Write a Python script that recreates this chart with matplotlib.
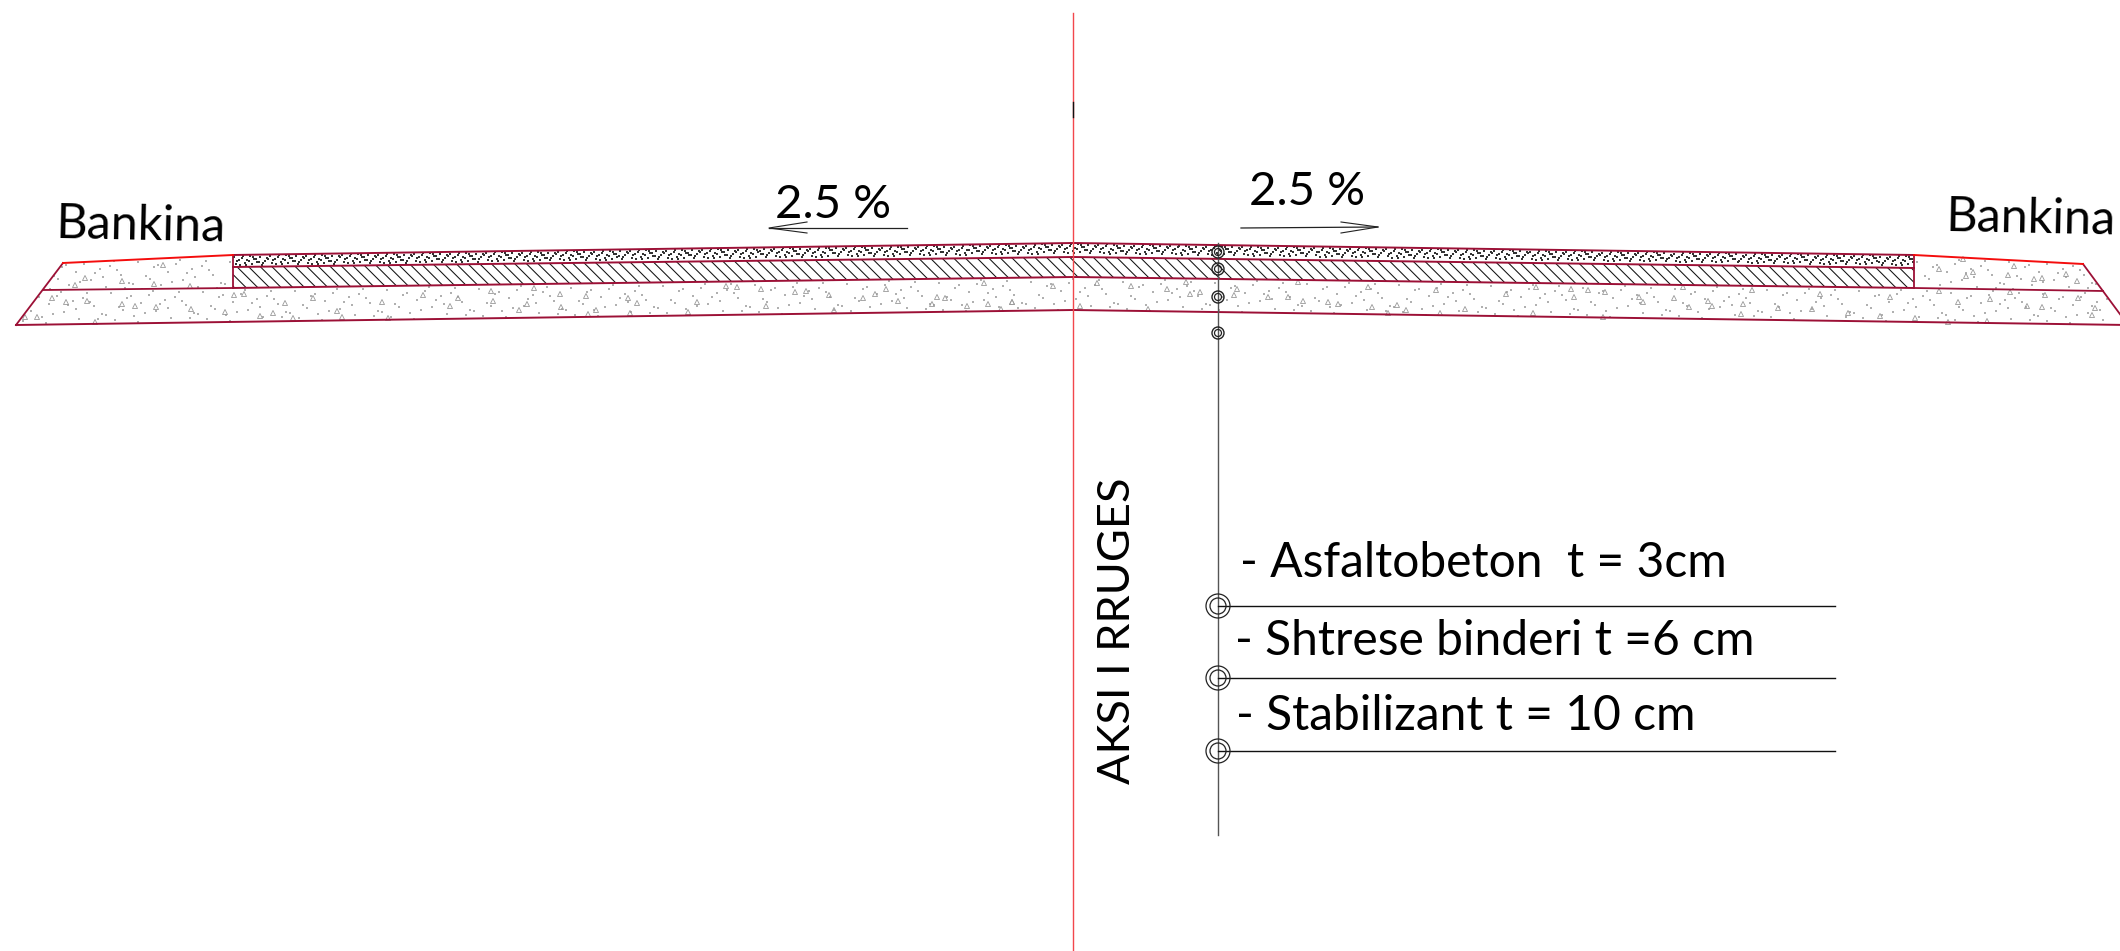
import matplotlib
matplotlib.use("Agg")
import matplotlib.pyplot as plt
from matplotlib.patches import Polygon, Circle
import numpy as np

plt.rcParams["font.family"] = ["Lato", "DejaVu Sans"]

# road section, in picture pixels
road_x = [233, 1073, 1914]
asphalt_top = [255, 243, 255]
asphalt_bottom = [267, 257, 268]
binder_bottom = [288, 277, 288]
base_x = [16, 1073, 2128]
base_bottom = [325, 310, 325]
left_shoulder_x = [43, 63, 233, 233]
left_shoulder_y = [290, 263, 255, 288]
right_shoulder_x = [1914, 1914, 2083, 2103]
right_shoulder_y = [288, 255, 264, 291]

leader_x = 1218
small_rings_y = [252, 269, 297, 333]
big_rings_y = [606, 678, 751]
leader_end_x = 1835
layer_labels = ["- Asfaltobeton  t = 3cm", "- Shtrese binderi t =6 cm", "- Stabilizant t = 10 cm"]
layer_label_x = [1240, 1235, 1236]
layer_label_y = [577, 655, 730]

# aggregate triangles in the base course and shoulders
stone_x = [25, 37, 75, 85, 122, 154, 190, 163, 52, 87, 66, 122, 135, 156, 191, 225, 260, 273, 293, 285, 313, 337,
           342, 388, 234, 244, 382, 95, 423, 458, 450, 491, 493, 534, 527, 519, 560, 586, 561, 596, 588, 628, 637,
           630, 688, 697, 726, 737, 761, 795, 806, 766, 829, 834, 863, 875, 886, 898, 937, 945, 932, 967, 988,
           1012, 1001, 984, 1053, 1012, 1080, 1097, 1131, 1167, 1186, 1190, 1200, 1148, 1237, 1234, 1268, 1288,
           1303, 1328, 1338, 1298, 1368, 1372, 1388, 1397, 1406, 1436, 1440, 1465, 1506, 1536, 1533, 1571, 1588,
           1574, 1605, 1603, 1639, 1643, 1674, 1689, 1708, 1712, 1743, 1752, 1741, 1778, 1683, 1820, 1812, 1848,
           1880, 1890, 1915, 1939, 1958, 1990, 2010, 2027, 2042, 2045, 2078, 2095, 2092, 1948, 1987, 1939, 1963,
           1966, 1973, 2014, 2008, 2034, 2042, 2066, 2077]
stone_y = [317, 317, 285, 278, 281, 284, 286, 265, 298, 301, 302, 304, 306, 307, 309, 312, 316, 313, 318, 303, 298,
           311, 317, 318, 295, 294, 302, 322, 295, 298, 306, 291, 301, 288, 304, 310, 294, 296, 307, 310, 314, 298,
           303, 313, 312, 302, 286, 287, 289, 292, 291, 306, 295, 310, 298, 294, 289, 301, 297, 298, 304, 306, 304,
           302, 309, 283, 286, 302, 306, 283, 286, 289, 282, 294, 292, 309, 289, 295, 297, 297, 301, 302, 304, 282,
           287, 307, 313, 305, 310, 290, 313, 309, 294, 287, 313, 289, 290, 297, 292, 317, 297, 302, 298, 307, 301,
           306, 304, 290, 314, 308, 287, 294, 309, 313, 316, 297, 318, 291, 302, 299, 292, 306, 307, 295, 298, 308,
           315, 322, 321, 269, 259, 276, 272, 266, 275, 279, 278, 274, 281]

# stipple tiles, repeated along the road
fine_tile_dx = [1, 4, 7, 9, 12, 14, 17, 19, 21, 24, 27, 29, 32, 34, 3, 10, 16, 23, 30, 6, 13, 20, 26, 35]
fine_tile_dy = [2, 6, 10, 3, 8, 5, 1, 9, 4, 7, 2, 10, 6, 3, 9, 1, 6, 4, 8, 5, 10, 2, 7, 4]
sand_tile_dx = [3, 11, 19, 26, 33, 41, 48, 57, 63, 71, 78, 86, 7, 23, 37, 52, 67, 82, 15, 45, 74, 30, 60, 90]
sand_tile_dy = [4, 18, 9, 27, 14, 6, 22, 11, 29, 3, 17, 25, 31, 7, 24, 15, 8, 30, 21, 2, 12, 33, 19, 26]

line_red = "#9c1036"
bright_red = "#f40d0d"
axis_red = "#f2474c"


def tile_points(x0, x1, step, tile_dx, tile_dy, ref_x, ref_y):
    xs = []
    ys = []
    for start in np.arange(x0, x1, step):
        for dx, dy in zip(tile_dx, tile_dy):
            xs.append(start + dx)
            ys.append(np.interp(start + dx, ref_x, ref_y) + dy)
    return xs, ys


fig = plt.figure(figsize=(21.2, 9.51), dpi=100)
ax = fig.add_axes([0, 0, 1, 1])
ax.set_xlim(0, 2120)
ax.set_ylim(951, 0)
ax.axis("off")

asphalt = Polygon(list(zip(road_x, asphalt_top)) + list(zip(road_x[::-1], asphalt_bottom[::-1])), fc="white", ec="none")
binder = Polygon(list(zip(road_x, asphalt_bottom)) + list(zip(road_x[::-1], binder_bottom[::-1])), fc="white", ec="none")
base_top_x = [43, 233, 1073, 1914, 2103]
base_top_y = [290, 288, 277, 288, 291]
base = Polygon(list(zip(base_top_x, base_top_y)) + [(2128, 325), (1073, 310), (16, 325)], fc="white", ec="none")
left_sh = Polygon(list(zip(left_shoulder_x, left_shoulder_y)), fc="white", ec="none")
right_sh = Polygon(list(zip(right_shoulder_x, right_shoulder_y)), fc="white", ec="none")
for p in [asphalt, binder, base, left_sh, right_sh]:
    ax.add_patch(p)

# asphalt speckle
xs, ys = tile_points(233, 1914, 36, fine_tile_dx, fine_tile_dy, road_x, asphalt_top)
dots = ax.scatter(xs, ys, s=1.0, marker="s", color="#333333", linewidths=0, zorder=2)
dots.set_clip_path(asphalt)

# binder hatch
for start in np.arange(140, 1914, 11.7):
    hatch, = ax.plot([start, start + 60], [240, 300], color="#111111", lw=0.75, zorder=2)
    hatch.set_clip_path(binder)

# sand dots in base and shoulders
xs, ys = tile_points(16, 2128, 92, sand_tile_dx, sand_tile_dy, base_top_x, base_top_y)
sand = ax.scatter(xs, ys, s=0.9, marker="s", color="#b0b0b0", linewidths=0, zorder=2)
sand.set_clip_path(base)
for p, x0, x1 in [(left_sh, 43, 233), (right_sh, 1914, 2103)]:
    xs, ys = tile_points(x0, x1, 92, sand_tile_dx, sand_tile_dy, [x0, x1], [258, 258])
    sand = ax.scatter(xs, ys, s=0.9, marker="s", color="#b0b0b0", linewidths=0, zorder=2)
    sand.set_clip_path(p)

ax.scatter(stone_x, stone_y, s=13, marker="^", facecolors="none", edgecolors="#999999", linewidths=0.6, zorder=2)

# layer outlines
ax.plot(road_x, asphalt_top, color=line_red, lw=1.4, zorder=3)
ax.plot(road_x, asphalt_bottom, color=line_red, lw=1.4, zorder=3)
ax.plot(road_x, binder_bottom, color=line_red, lw=1.4, zorder=3)
ax.plot(base_x, base_bottom, color=line_red, lw=1.4, zorder=3)
ax.plot([233, 233], [255, 288], color=line_red, lw=1.3, zorder=3)
ax.plot([1914, 1914], [255, 288], color=line_red, lw=1.3, zorder=3)
ax.plot([43, 233], [290, 288], color=line_red, lw=1.3, zorder=3)
ax.plot([1914, 2103], [288, 291], color=line_red, lw=1.3, zorder=3)
ax.plot([16, 63], [325, 263], color=line_red, lw=1.3, zorder=3)
ax.plot([2083, 2128], [264, 325], color=line_red, lw=1.3, zorder=3)
ax.plot([63, 233], [263, 255], color=bright_red, lw=1.4, zorder=3)
ax.plot([1914, 2083], [255, 264], color=bright_red, lw=1.4, zorder=3)

# road axis
ax.plot([1073, 1073], [13, 951], color=axis_red, lw=1.0, zorder=4)
ax.plot([1073, 1073], [102, 117], color="#111111", lw=1.0, zorder=5)

# slope arrows
ax.plot([907, 769], [228, 228], color="#222222", lw=0.9)
ax.plot([807, 769, 807], [222, 228, 233], color="#222222", lw=0.8)
ax.plot([1241, 1378], [228, 227], color="#222222", lw=0.9)
ax.plot([1341, 1378, 1341], [222, 227, 233], color="#222222", lw=0.8)

# leader and rings
ax.plot([leader_x, leader_x], [243, 835], color="#555555", lw=1.0, zorder=4)
for y in small_rings_y:
    ax.add_patch(Circle((leader_x, y), 6, fc="none", ec="#222222", lw=1.0, zorder=5))
    ax.add_patch(Circle((leader_x, y), 3.5, fc="none", ec="#222222", lw=0.9, zorder=5))
for y in big_rings_y:
    ax.add_patch(Circle((leader_x, y), 12, fc="none", ec="#222222", lw=0.9, zorder=5))
    ax.add_patch(Circle((leader_x, y), 8, fc="none", ec="#222222", lw=0.9, zorder=5))
    ax.plot([leader_x, leader_end_x], [y, y], color="#111111", lw=1.0, zorder=4)

# texts
ax.text(775, 218, "2.5 %", fontsize=34, va="baseline", ha="left", color="black")
ax.text(1249, 205, "2.5 %", fontsize=34, va="baseline", ha="left", color="black")
ax.text(56, 238, "Bankina", fontsize=35, va="baseline", ha="left", rotation=-1.2, rotation_mode="anchor")
ax.text(1946, 231, "Bankina", fontsize=35, va="baseline", ha="left", rotation=-1.2, rotation_mode="anchor")
ax.text(1130, 784, "AKSI I RRUGES", fontsize=32.5, va="baseline", ha="left", rotation=90, rotation_mode="anchor")
for label, x, y in zip(layer_labels, layer_label_x, layer_label_y):
    ax.text(x, y, label, fontsize=34.6, va="baseline", ha="left", color="black")

fig.savefig("out.png", dpi=100)
